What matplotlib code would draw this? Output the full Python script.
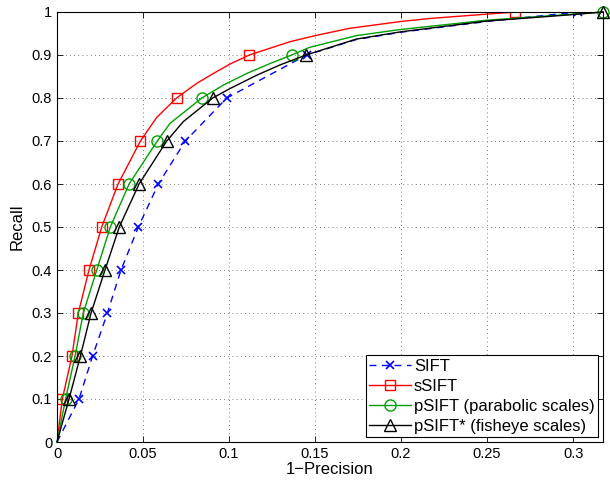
import matplotlib

matplotlib.use("Agg")
import matplotlib.pyplot as plt

plt.rcParams["font.family"] = ["Liberation Sans", "DejaVu Sans"]

# curve samples; markers sit at recall 0.1 ... 1.0
# SIFT (blue dashed, x markers)
sift_x = [0, 0.0128, 0.0207, 0.0293, 0.0372, 0.0473, 0.0589, 0.0746, 0.0987, 0.12, 0.1452, 0.174, 0.20, 0.25, 0.3027]
sift_y = [0, 0.1, 0.2, 0.3, 0.4, 0.5, 0.6, 0.7, 0.8, 0.846, 0.9, 0.936, 0.953, 0.978, 1.0]
sift_marks = [1, 2, 3, 4, 5, 6, 7, 8, 10, 14]

# sSIFT (red, squares)
ssift_x = [0, 0.0031, 0.0087, 0.0124, 0.0186, 0.026, 0.0355, 0.0485, 0.058, 0.0695,
           0.0812, 0.0909, 0.1006, 0.1118, 0.1355, 0.15, 0.17, 0.20, 0.2169, 0.2663]
ssift_y = [0, 0.1, 0.2, 0.3, 0.4, 0.5, 0.6, 0.7, 0.755, 0.8,
           0.834, 0.857, 0.879, 0.9, 0.931, 0.945, 0.962, 0.978, 0.985, 1.0]
ssift_marks = [1, 2, 3, 4, 5, 6, 7, 9, 13, 19]

# pSIFT parabolic (green, circles)
psift_x = [0, 0.005, 0.0105, 0.0153, 0.0231, 0.031, 0.0419, 0.0583, 0.0657, 0.0842,
           0.0967, 0.1103, 0.1238, 0.1364, 0.147, 0.174, 0.199, 0.25, 0.30, 0.3174]
psift_y = [0, 0.1, 0.2, 0.3, 0.4, 0.5, 0.6, 0.7, 0.741, 0.8,
           0.830, 0.857, 0.880, 0.9, 0.918, 0.945, 0.959, 0.981, 0.995, 1.0]
psift_marks = [1, 2, 3, 4, 5, 6, 7, 9, 13, 19]

# pSIFT* fisheye (black, triangles)
fish_x = [0, 0.007, 0.0136, 0.0198, 0.0279, 0.0362, 0.0477, 0.0638, 0.0734, 0.0905,
          0.1006, 0.1161, 0.1297, 0.1448, 0.174, 0.20, 0.25, 0.30, 0.3174]
fish_y = [0, 0.1, 0.2, 0.3, 0.4, 0.5, 0.6, 0.7, 0.745, 0.8,
          0.822, 0.853, 0.877, 0.9, 0.937, 0.954, 0.979, 0.994, 1.0]
fish_marks = [1, 2, 3, 4, 5, 6, 7, 9, 13, 18]

x_ticks = [0, 0.05, 0.1, 0.15, 0.2, 0.25, 0.3]
x_tick_labels = ["0", "0.05", "0.1", "0.15", "0.2", "0.25", "0.3"]
y_ticks = [0, 0.1, 0.2, 0.3, 0.4, 0.5, 0.6, 0.7, 0.8, 0.9, 1.0]
y_tick_labels = ["0", "0.1", "0.2", "0.3", "0.4", "0.5", "0.6", "0.7", "0.8", "0.9", "1"]

fig = plt.figure(figsize=(6.1, 4.83), dpi=100)
ax = fig.add_axes([57 / 610, 1 - 442 / 483, 546 / 610, 430 / 483])

ms = 7
ax.plot(sift_x, sift_y, "--", color="#0000ff", lw=1.0, dashes=(5, 4),
        marker="x", ms=6, mew=1.2, markevery=sift_marks, label="SIFT")
ax.plot(ssift_x, ssift_y, "-", color="#ff0000", lw=1.0,
        marker="s", ms=ms, mfc="none", mew=1.0, markevery=ssift_marks, label="sSIFT")
ax.plot(psift_x, psift_y, "-", color="#009f00", lw=1.0,
        marker="o", ms=ms + 1, mfc="none", mew=1.0, markevery=psift_marks,
        label="pSIFT (parabolic scales)", clip_on=False)
ax.plot(fish_x, fish_y, "-", color="black", lw=1.0,
        marker="^", ms=ms + 1, mfc="none", mew=1.0, markevery=fish_marks,
        label="pSIFT* (fisheye scales)", clip_on=False)

ax.set_xlim(0, 0.3174)
ax.set_ylim(0, 1)
ax.set_xticks(x_ticks)
ax.set_xticklabels(x_tick_labels)
ax.set_yticks(y_ticks)
ax.set_yticklabels(y_tick_labels)
ax.tick_params(direction="in", top=True, right=True, labelsize=10.5, length=4, width=0.6)
for sp in ax.spines.values():
    sp.set_linewidth(0.8)
ax.grid(True, linestyle=(0, (1, 4)), color="#555555", linewidth=0.6)

ax.set_xlabel("1\u2212Precision", fontsize=12, labelpad=1)
ax.set_ylabel("Recall", fontsize=12, labelpad=5)

leg = ax.legend(loc="lower right", fontsize=12, fancybox=False, framealpha=1,
                edgecolor="black", borderpad=0.2, labelspacing=0.3,
                handlelength=2.5, handletextpad=0.2, borderaxespad=0.3)
leg.get_frame().set_linewidth(0.8)

fig.savefig("out.png", dpi=100)
